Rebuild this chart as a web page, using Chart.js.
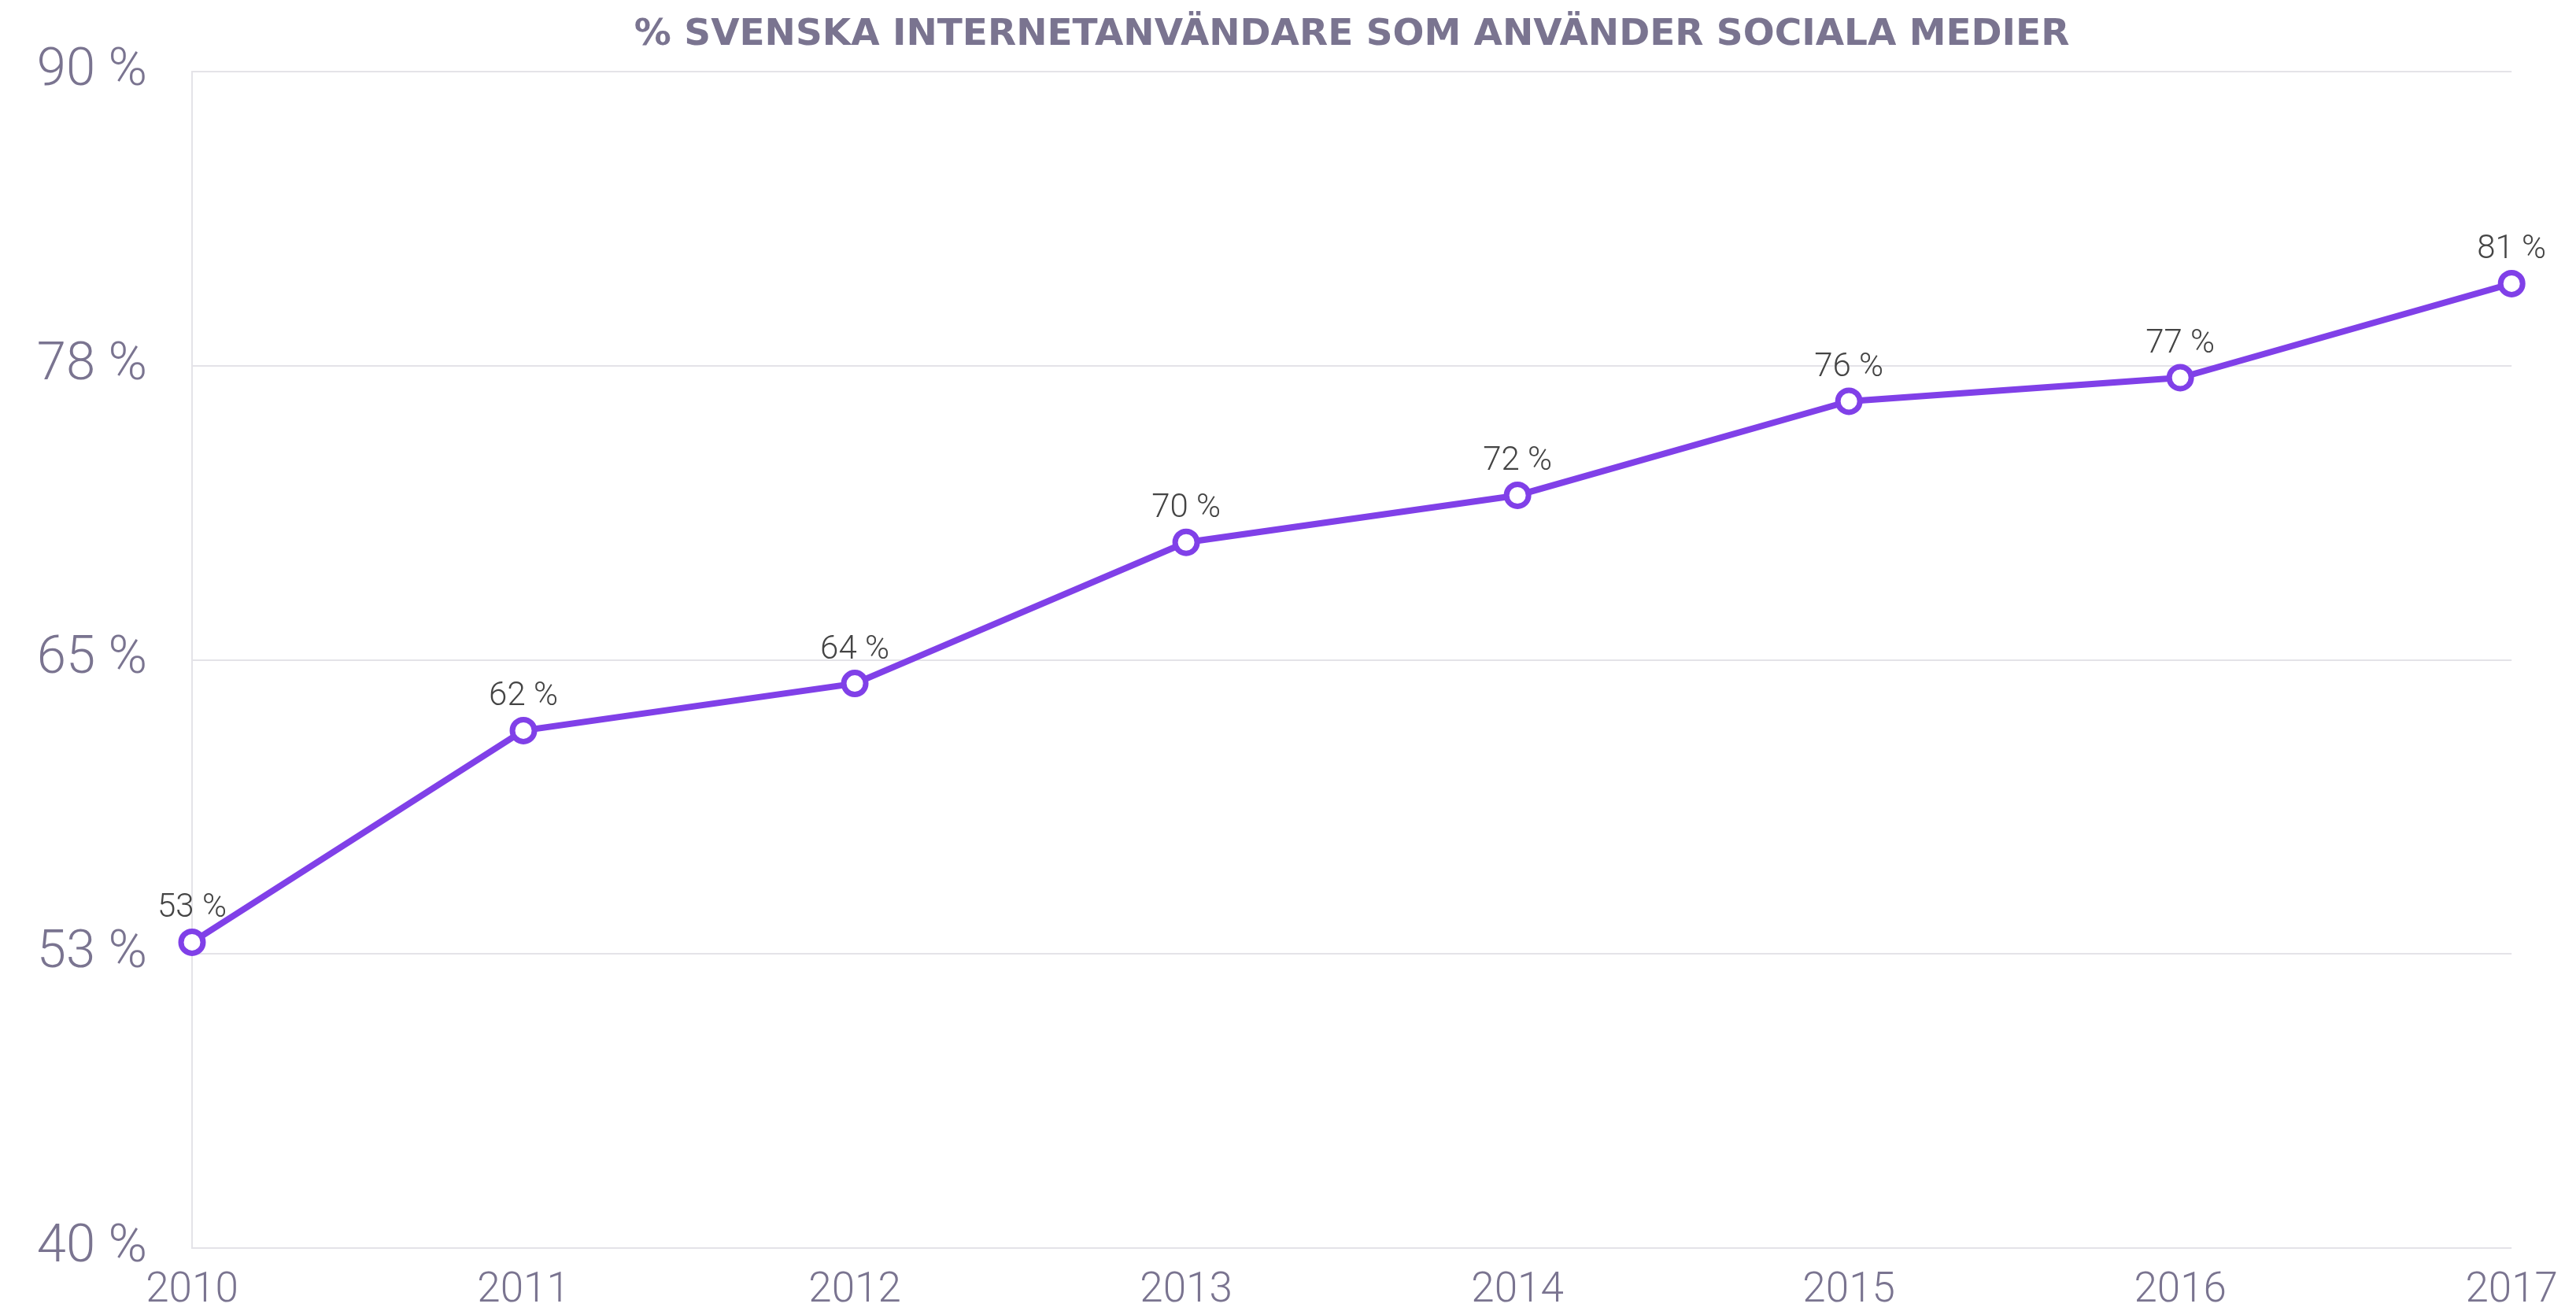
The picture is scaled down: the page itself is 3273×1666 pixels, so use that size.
<!DOCTYPE html>
<html>
<head>
<meta charset="utf-8">
<script src="https://cdn.jsdelivr.net/npm/chart.js@4"></script>
<style>
  html, body { margin: 0; padding: 0; background: #fff; overflow: hidden; }
  #lineChart { display: block; }
</style>
</head>
<body>
<canvas id="lineChart" width="3273" height="1666"></canvas>
<script>
'use strict';

const years = ['2010', '2011', '2012', '2013', '2014', '2015', '2016', '2017'];
const socialShare = [53, 62, 64, 70, 72, 76, 77, 81];
const yTicks = [40, 52.5, 65, 77.5, 90];

const purple = '#8040e8';
const labelGrey = '#7a7490';

// small plugin that writes "NN %" above each point
const pointLabels = {
  id: 'pointLabels',
  afterDatasetsDraw(chart) {
    const ctx = chart.ctx;
    const meta = chart.getDatasetMeta(0);
    ctx.save();
    ctx.font = '300 42px Roboto, Lato, sans-serif';
    ctx.fillStyle = '#444444';
    ctx.textAlign = 'center';
    ctx.textBaseline = 'alphabetic';
    meta.data.forEach(function (pt, i) {
      ctx.fillText(socialShare[i] + ' %', pt.x, pt.y - 32);
    });
    ctx.restore();
  }
};

let chartObject = {
  type: 'line',
  data: {
    labels: years,
    datasets: [{
      label: 'Sociala medier',
      data: socialShare,
      borderColor: purple,
      borderWidth: 8,
      backgroundColor: '#ffffff',
      pointBackgroundColor: '#ffffff',
      pointBorderColor: purple,
      pointBorderWidth: 7,
      pointRadius: 14,
      tension: 0,
      clip: false
    }]
  },
  options: {
    responsive: false,
    animation: false,
    devicePixelRatio: 1,
    layout: { padding: { top: 0, right: 73, bottom: 0, left: 0 } },
    plugins: {
      legend: { display: false },
      tooltip: { enabled: false },
      title: {
        display: true,
        fullSize: false,
        text: '% SVENSKA INTERNETANVÄNDARE SOM ANVÄNDER SOCIALA MEDIER',
        color: labelGrey,
        font: { family: '"DejaVu Sans", sans-serif', size: 47, weight: 'bold' },
        padding: { top: 17, bottom: 18 }
      }
    },
    scales: {
      x: {
        grid: { display: false, drawTicks: false },
        border: { display: false },
        ticks: {
          color: labelGrey,
          font: { family: 'Roboto, Lato, sans-serif', size: 53, weight: '300' },
          padding: 23,
          maxRotation: 0
        },
        afterFit(scale) { scale.height = 80; }
      },
      y: {
        min: 40,
        max: 90,
        afterBuildTicks(scale) {
          scale.ticks = yTicks.map(function (v) { return { value: v }; });
        },
        grid: { color: '#e4e3e8', lineWidth: 2, drawTicks: false },
        border: { display: true, color: '#e4e3e8', width: 2 },
        ticks: {
          color: labelGrey,
          font: { family: 'Roboto, Lato, sans-serif', size: 67, weight: '300' },
          padding: 57,
          callback: function (v) { return Math.round(v) + ' %'; }
        },
        afterFit(scale) {
          // keep the big tick padding from pushing the plot area in vertically
          scale.width = 244;
          scale.paddingTop = 40;
          scale.paddingBottom = 40;
        }
      }
    }
  },
  plugins: [pointLabels]
};

let ctx = document.getElementById('lineChart').getContext('2d');
let myChart = new Chart(ctx, chartObject);
</script>
</body>
</html>
